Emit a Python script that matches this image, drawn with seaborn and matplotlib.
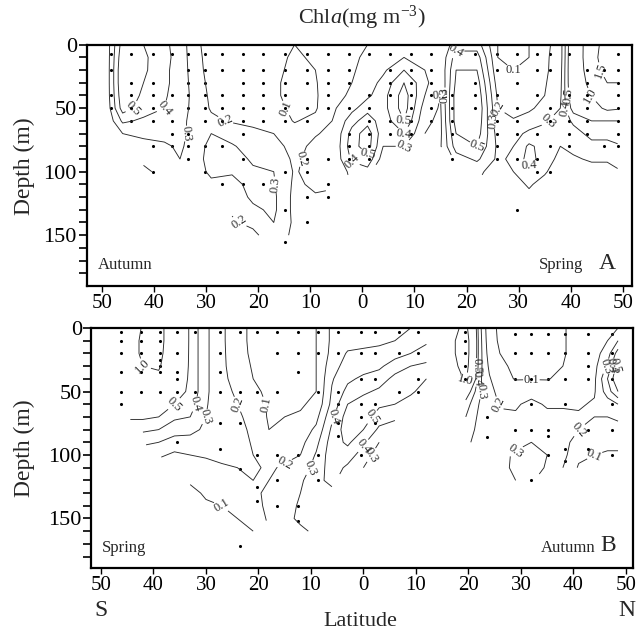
import numpy as np
import matplotlib
matplotlib.use("Agg")
import matplotlib.pyplot as plt
import seaborn as sns
import pandas as pd

sns.set_theme(style="ticks")
plt.rcParams['font.family'] = ['Liberation Serif', 'DejaVu Serif']
plt.rcParams['mathtext.fontset'] = 'custom'
plt.rcParams['mathtext.rm'] = 'Liberation Serif'
plt.rcParams['mathtext.it'] = 'Liberation Serif:italic'

N = np.nan
DEPTHS = [0, 10, 20, 30, 40, 50, 60, 70, 80, 90, 100, 110, 120, 130, 140, 150, 160, 170]
LEVELS = [0.1, 0.2, 0.3, 0.4, 0.5, 1.0, 1.5]
TICK_LATS = [-50, -40, -30, -20, -10, 0, 10, 20, 30, 40, 50]
TICK_LABELS = ['50', '40', '30', '20', '10', '0', '10', '20', '30', '40', '50']
DEPTH_TICKS = [0, 50, 100, 150]

# ---------------- Panel A: Chl a profiles (latitude, values every 10 m from 0 m) -------------
A_LATS = [-49, -46, -42, -38, -35, -32, -29, -25, -21, -17, -13, -9, -5, -2, 1, 4, 8, 12,
          15, 18, 22, 26, 29, 32, 35, 38, 40.5, 44, 47, 49]
A_S49 = [0.25, 0.25, 0.25, 0.25, 0.25, 0.24, 0.22]
A_S46 = [0.55, 0.58, 0.6, 0.6, 0.58, 0.55, 0.42, 0.3, 0.22]
A_S42 = [0.5, 0.52, 0.52, 0.5, 0.48, 0.45, 0.38, 0.32, 0.27, 0.22, 0.18]
A_S38 = [0.42, 0.43, 0.42, 0.42, 0.41, 0.4, 0.36, 0.32, 0.29, 0.26, 0.23]
A_S35 = [0.36, 0.36, 0.36, 0.36, 0.36, 0.35, 0.33, 0.32, 0.31, 0.3, 0.28, 0.25]
A_S32 = [0.22, 0.23, 0.24, 0.25, 0.26, 0.26, 0.26, 0.27, 0.27, 0.27, 0.26, 0.25]
A_S29 = [0.16, 0.16, 0.16, 0.17, 0.18, 0.19, 0.22, 0.3, 0.32, 0.33, 0.32, 0.28, 0.22]
A_S25 = [0.15, 0.15, 0.15, 0.15, 0.16, 0.17, 0.19, 0.26, 0.31, 0.33, 0.31, 0.27, 0.24, 0.21, 0.19, 0.18]
A_S21 = [0.14, 0.14, 0.14, 0.14, 0.14, 0.15, 0.18, 0.22, 0.26, 0.29, 0.31, 0.33, 0.32, 0.28, 0.22, 0.18]
A_S17 = [0.12, 0.12, 0.115, 0.11, 0.11, 0.12, 0.14, 0.2, 0.24, 0.27, 0.3, 0.31, 0.32, 0.32, 0.3, 0.25]
A_S13 = [0.1, 0.09, 0.085, 0.08, 0.08, 0.085, 0.095, 0.13, 0.16, 0.18, 0.19, 0.18, 0.17, 0.17, 0.18, 0.18]
A_S09 = [0.12, 0.11, 0.1, 0.095, 0.09, 0.09, 0.12, 0.19, 0.23, 0.24, 0.24, 0.22, 0.19]
A_S05 = [0.13, 0.14, 0.14, 0.15, 0.17, 0.2, 0.22, 0.24, 0.25, 0.25, 0.23, 0.21]
A_S02 = [0.17, 0.18, 0.19, 0.2, 0.22, 0.27, 0.36, 0.44, 0.46, 0.42, 0.33]
A_N01 = [0.2, 0.22, 0.23, 0.25, 0.28, 0.36, 0.46, 0.56, 0.55, 0.47, 0.36]
A_N04 = [0.22, 0.25, 0.28, 0.33, 0.36, 0.36, 0.34, 0.33, 0.3, 0.25]
A_N08 = [0.25, 0.3, 0.4, 0.5, 0.55, 0.55, 0.5, 0.4, 0.3]
A_N12 = [0.25, 0.27, 0.3, 0.33, 0.3, 0.25, 0.22, 0.2]
A_N15 = [0.22, 0.22, 0.22, 0.21, 0.2, 0.19, 0.18, 0.18, 0.19]
A_N18 = [0.35, 0.45, 0.5, 0.52, 0.55, 0.55, 0.55, 0.5, 0.45, 0.35]
A_N22 = [0.35, 0.45, 0.5, 0.55, 0.58, 0.6, 0.58, 0.55, 0.5, 0.42, 0.32]
A_N26 = [0.1, 0.1, 0.12, 0.15, 0.18, 0.2, 0.22, 0.26, 0.28, 0.28, 0.26, 0.24]
A_N29 = [0.09, 0.09, 0.1, 0.11, 0.13, 0.16, 0.21, 0.27, 0.3, 0.32, 0.3, 0.27, 0.24, 0.22]
A_N32 = [0.1, 0.1, 0.11, 0.12, 0.14, 0.18, 0.25, 0.32, 0.42, 0.44, 0.36, 0.31, 0.28]
A_N35 = [0.17, 0.18, 0.18, 0.19, 0.2, 0.24, 0.29, 0.33, 0.36, 0.35, 0.31, 0.27]
A_N38 = [0.25, 0.25, 0.26, 0.27, 0.28, 0.3, 0.33, 0.33, 0.3, 0.27, 0.25]
A_N40 = [0.65, 0.66, 0.66, 0.65, 0.62, 0.55, 0.42, 0.36, 0.32, 0.29, 0.26]
A_N44 = [1.3, 1.3, 1.25, 1.15, 1.02, 0.8, 0.5, 0.43, 0.37, 0.31, 0.27]
A_N47 = [1.7, 1.8, 1.7, 1.5, 1.3, 1.1, 0.5, 0.43, 0.37, 0.31, 0.27]
A_N49 = [1.8, 1.8, 1.7, 1.5, 1.25, 1.05, 0.5, 0.44, 0.39, 0.33, 0.29]
A_COLS = [A_S49, A_S46, A_S42, A_S38, A_S35, A_S32, A_S29, A_S25, A_S21, A_S17, A_S13, A_S09,
          A_S05, A_S02, A_N01, A_N04, A_N08, A_N12, A_N15, A_N18, A_N22, A_N26, A_N29, A_N32,
          A_N35, A_N38, A_N40, A_N44, A_N47, A_N49]

# sampling points (station latitude, sample depths)
A_STATIONS = [
    (-48.3, [7, 20, 40, 50]), (-44.4, [7, 30, 40, 50, 60]), (-40.2, [7, 30, 40, 50, 60, 80, 100]),
    (-36.5, [7, 40, 60, 70, 80]), (-33.4, [7, 20, 30, 40, 50, 70, 80, 90]),
    (-30.2, [7, 20, 30, 40, 50, 60, 80, 100]), (-26.9, [7, 20, 40, 50, 60, 80, 110]),
    (-22.9, [7, 20, 30, 40, 50, 60, 70, 90, 110]), (-19.0, [7, 20, 30, 40, 50, 60, 110]),
    (-14.9, [7, 20, 30, 40, 50, 60, 100, 130, 155]), (-10.6, [7, 20, 30, 50, 60, 90, 100, 120, 140]),
    (-6.5, [7, 20, 30, 40, 50, 90, 110, 120]), (-2.6, [7, 20, 30, 50, 70, 80, 90]),
    (1.2, [7, 40, 50, 60, 70, 80, 90]), (5.4, [7, 20, 30, 40, 60, 70]),
    (9.4, [7, 20, 30, 40, 50, 60, 70]), (13.2, [7, 20, 30, 40, 50, 60]),
    (17.2, [40, 50, 60, 70, 90]), (21.7, [7, 30, 40, 50]), (25.9, [7, 20, 40, 60, 70, 80, 90]),
    (29.7, [7, 30, 50, 60, 70, 90, 130]), (33.5, [7, 20, 40, 70, 90, 100]),
    (36.0, [7, 20, 50, 60, 80, 100]), (39.7, [7, 40, 60, 70, 80]),
    (43.2, [20, 30, 40, 50, 60, 70]), (46.4, [20, 80]), (49.0, [7, 20, 30, 40, 50, 60, 70, 80]),
]

# ---------------- Panel B -------------
B_LATS = [-48, -45, -42, -39, -36, -33, -30, -27, -24, -21, -18, -15, -12, -9, -6, -3, 0, 3, 6, 9,
          12, 14.5, 17, 19.5, 22, 24, 26, 29, 32, 35, 38, 41, 44, 46.5, 48.5]
B_S48 = [0.7, 0.7, 0.7, 0.7, 0.65, 0.6, 0.5]
B_S45 = [0.85, 0.85, 0.85, 0.8, 0.75, 0.7, 0.62, 0.52]
B_S42 = [1.02, 1.05, 1.05, 1.0, 0.9, 0.8, 0.65, 0.52, 0.42, 0.32]
B_S39 = [1.15, 1.15, 1.12, 1.05, 0.9, 0.75, 0.6, 0.5, 0.4, 0.3, 0.22]
B_S36 = [0.7, 0.7, 0.68, 0.65, 0.6, 0.55, 0.5, 0.42, 0.34, 0.26, 0.18, 0.1]
B_S33 = [0.48, 0.48, 0.48, 0.48, 0.48, 0.48, 0.45, 0.4, 0.33, 0.26, 0.2, 0.15, 0.11, 0.08]
B_S30 = [0.32, 0.32, 0.32, 0.32, 0.32, 0.32, 0.31, 0.3, 0.28, 0.25, 0.21, 0.17, 0.14, 0.11, 0.09]
B_S27 = [0.22, 0.22, 0.22, 0.22, 0.22, 0.22, 0.23, 0.25, 0.26, 0.25, 0.22, 0.19, 0.16, 0.13, 0.1, 0.08]
B_S24 = [0.13, 0.13, 0.14, 0.15, 0.17, 0.19, 0.2, 0.22, 0.23, 0.24, 0.23, 0.2, 0.17, 0.14, 0.12, 0.1, 0.08, 0.07]
B_S21 = [0.08, 0.08, 0.08, 0.09, 0.1, 0.12, 0.14, 0.16, 0.18, 0.19, 0.2, 0.21, 0.2, 0.17, 0.14, 0.12, 0.1]
B_S18 = [0.07, 0.07, 0.07, 0.07, 0.07, 0.08, 0.09, 0.09, 0.1, 0.13, 0.16, 0.19, 0.2, 0.23, 0.24, 0.22]
B_S15 = [0.07, 0.07, 0.07, 0.07, 0.07, 0.08, 0.09, 0.1, 0.12, 0.15, 0.18, 0.21, 0.24, 0.26, 0.27, 0.27]
B_S12 = [0.08, 0.08, 0.08, 0.08, 0.08, 0.085, 0.09, 0.11, 0.14, 0.17, 0.2, 0.24, 0.28, 0.3, 0.31, 0.32, 0.28]
B_S09 = [0.1, 0.1, 0.1, 0.1, 0.1, 0.1, 0.12, 0.17, 0.22, 0.27, 0.31, 0.34, 0.38, 0.4, 0.4, 0.38, 0.32]
B_S06 = [0.22, 0.22, 0.23, 0.26, 0.29, 0.31, 0.33, 0.38, 0.42, 0.45, 0.46, 0.45, 0.42, 0.38]
B_S03 = [0.24, 0.26, 0.31, 0.34, 0.38, 0.43, 0.5, 0.55, 0.56, 0.52, 0.45, 0.38]
B_EQ0 = [0.25, 0.27, 0.32, 0.36, 0.42, 0.48, 0.55, 0.56, 0.5, 0.42, 0.35, 0.3]
B_N03 = [0.26, 0.28, 0.33, 0.38, 0.45, 0.52, 0.52, 0.45, 0.38, 0.3, 0.25]
B_N06 = [0.28, 0.3, 0.36, 0.45, 0.53, 0.55, 0.5, 0.42, 0.35]
B_N09 = [0.3, 0.33, 0.4, 0.5, 0.55, 0.52, 0.45]
B_N12 = [0.32, 0.38, 0.45, 0.52, 0.5, 0.45]
B_N14 = []
B_N17 = [0.9, 0.95, 0.95, 0.9, 0.8]
B_N19 = [1.1, 1.2, 1.2, 1.15, 1.05, 0.6, 0.45, 0.4, 0.38, 0.35]
B_N22 = [0.35, 0.36, 0.36, 0.35, 0.33, 0.32, 0.3, 0.28, 0.26, 0.22]
B_N24 = [0.12, 0.13, 0.15, 0.18, 0.21, 0.24, 0.27, 0.3, 0.29, 0.26, 0.24]
B_N26 = [0.09, 0.09, 0.1, 0.11, 0.13, 0.16, 0.19, 0.22, 0.25, 0.28, 0.28, 0.27]
B_N29 = [0.07, 0.07, 0.08, 0.09, 0.095, 0.15, 0.19, 0.21, 0.24, 0.28, 0.31, 0.32, 0.3]
B_N32 = [0.07, 0.07, 0.08, 0.09, 0.095, 0.17, 0.22, 0.24, 0.26, 0.3, 0.33, 0.34, 0.31]
B_N35 = [0.07, 0.07, 0.08, 0.09, 0.095, 0.15, 0.19, 0.22, 0.25, 0.28, 0.3, 0.29]
B_N38 = [0.09, 0.09, 0.09, 0.1, 0.12, 0.16, 0.19, 0.22, 0.23, 0.24, 0.23, 0.2]
B_N41 = [0.14, 0.14, 0.14, 0.14, 0.15, 0.17, 0.19, 0.21, 0.2, 0.15, 0.12, 0.09]
B_N44 = [0.15, 0.15, 0.16, 0.17, 0.18, 0.19, 0.21, 0.2, 0.17, 0.14, 0.1, 0.08]
B_N46 = [0.18, 0.2, 0.25, 0.32, 0.4, 0.35, 0.25, 0.2, 0.16, 0.12, 0.09]
B_N48 = [0.2, 0.3, 0.45, 0.55, 0.6, 0.5, 0.3, 0.22, 0.16, 0.12, 0.09]
B_COLS = [B_S48, B_S45, B_S42, B_S39, B_S36, B_S33, B_S30, B_S27, B_S24, B_S21, B_S18, B_S15,
          B_S12, B_S09, B_S06, B_S03, B_EQ0, B_N03, B_N06, B_N09, B_N12, B_N14, B_N17, B_N19,
          B_N22, B_N24, B_N26, B_N29, B_N32, B_N35, B_N38, B_N41, B_N44, B_N46, B_N48]

B_STATIONS = [
    (-46.1, [3, 10, 20, 35, 50, 60]), (-42.3, [3, 10, 20, 35, 50]),
    (-38.8, [3, 10, 20, 25, 30, 35, 50]), (-35.6, [3, 20, 35, 40, 50, 90]),
    (-32.1, [3, 50]), (-27.3, [3, 20, 35, 50, 75, 95]), (-23.5, [3, 50, 75, 111, 172]),
    (-20.3, [3, 50, 100, 125, 136]), (-16.5, [3, 20, 50, 100, 120, 140]),
    (-12.4, [3, 20, 35, 100, 140, 152]), (-8.6, [3, 20, 50, 100, 120]),
    (-4.8, [3, 20, 50, 60, 75, 85]), (-0.5, [3, 20, 40, 60, 70, 100]),
    (2.2, [3, 20, 40, 60, 75]), (6.8, [3, 20, 50]), (10.4, [3, 20, 40, 50]),
    (19.3, [3, 10, 20, 30, 40]), (23.5, [70, 86]), (28.8, [5, 20, 40, 80]),
    (32.0, [5, 20, 40, 60, 80, 120]), (35.2, [5, 20, 40, 80, 85, 100]),
    (38.4, [5, 20, 40, 60, 95, 105]), (42.8, [5, 20, 30, 40, 80, 95]),
    (47.3, [5, 20, 40, 60, 80, 100]),
]


def build_grid(cols):
    z = np.full((len(DEPTHS), len(cols)), np.nan)
    for j, c in enumerate(cols):
        z[:len(c), j] = c
    return np.ma.masked_invalid(z)


def stations_frame(stations):
    rows = [(lat, d) for lat, ds in stations for d in ds]
    return pd.DataFrame(rows, columns=['lat', 'depth'])


fig = plt.figure(figsize=(6.38, 6.33), dpi=100)
axA = fig.add_axes([0.1359, 0.5482, 0.8542, 0.3812])
axB = fig.add_axes([0.1434, 0.1027, 0.8483, 0.3791])

panels = [
    (axA, A_LATS, A_COLS, A_STATIONS, (-52.9, 51.7), 190, 'Autumn', 'Spring', 'A'),
    (axB, B_LATS, B_COLS, B_STATIONS, (-51.8, 51.3), 189, 'Spring', 'Autumn', 'B'),
]

for ax, lats, cols, stations, xlim, ybot, left_txt, right_txt, letter in panels:
    z = build_grid(cols)
    cs = ax.contour(lats, DEPTHS, z, levels=LEVELS, colors='#2a2a2a', linewidths=0.65)
    ax.clabel(cs, fmt='%.1f', fontsize=9, inline=True, inline_spacing=1)
    df = stations_frame(stations)
    sns.scatterplot(data=df, x='lat', y='depth', ax=ax, color='black', s=5,
                    linewidth=0, legend=False)
    ax.set_xlim(*xlim)
    ax.set_ylim(ybot, 0)
    ax.set_xticks(TICK_LATS)
    ax.set_xticklabels(TICK_LABELS, fontsize=15)
    ax.set_yticks(DEPTH_TICKS)
    ax.set_yticklabels([str(t) for t in DEPTH_TICKS], fontsize=16)
    ax.set_yticks(np.arange(0, 190, 10), minor=True)
    ax.tick_params(axis='y', which='both', direction='out', length=6, width=1.2, pad=1, colors='black')
    ax.tick_params(axis='x', which='major', direction='out', length=4, width=1.0, pad=2, colors='black')
    ax.set_xlabel('')
    ax.set_ylabel('')
    for sp in ax.spines.values():
        sp.set_visible(True)
        sp.set_linewidth(1.6)
        sp.set_color('black')
    ax.text(0.02, 0.085, left_txt, transform=ax.transAxes, fontsize=12, va='center', ha='left')
    ax.text(0.83, 0.085, right_txt, transform=ax.transAxes, fontsize=12, va='center', ha='left')
    ax.text(0.955, 0.095, letter, transform=ax.transAxes, fontsize=17, va='center', ha='center')

fig.text(0.567, 0.972, r'Chl$\mathit{a}$(mg m$^{-3}$)', fontsize=16, ha='center', va='center')
fig.text(0.038, 0.738, 'Depth (m)', rotation=90, fontsize=17, ha='center', va='center')
fig.text(0.038, 0.292, 'Depth (m)', rotation=90, fontsize=17, ha='center', va='center')
fig.text(0.158, 0.036, 'S', fontsize=17, ha='center', va='center')
fig.text(0.983, 0.036, 'N', fontsize=17, ha='center', va='center')
fig.text(0.564, 0.018, 'Latitude', fontsize=16, ha='center', va='center')

fig.savefig('out.png', dpi=100)
